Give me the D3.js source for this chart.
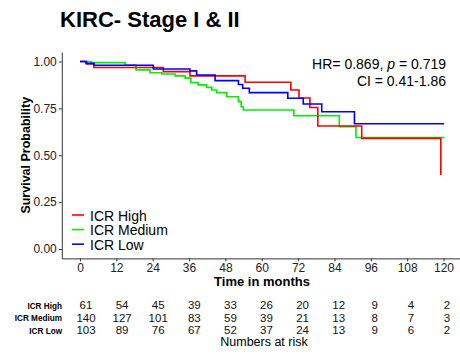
<!DOCTYPE html>
<html>
<head>
<meta charset="utf-8">
<script src="https://cdn.jsdelivr.net/npm/d3@7"></script>
<style>
  body { margin: 0; background: #fff; }
  svg { font-family: "Liberation Sans", Arial, sans-serif; }
  .axis path, .axis line { stroke: #333; }
  .axis text { fill: #222; font-size: 11.5px; font-family: "Liberation Sans", Arial, sans-serif; }
</style>
</head>
<body>
<div id="chart"></div>
<script>
// Kaplan-Meier curves (months, survival)
var groups = ["ICR High", "ICR Medium", "ICR Low"];
var colors = ["#ff0000", "#00ee00", "#0000ff"];

var highTime = [0, 2.2, 4.6, 27.5, 36.3, 54.5, 69.6, 72.3, 75.9, 78.5, 93, 119.1];
var highSurv = [1, 0.987, 0.968, 0.946, 0.923, 0.889, 0.848, 0.805, 0.755, 0.656, 0.59, 0.395];

var medTime = [0, 3.6, 14.9, 18.5, 23.1, 27, 31.4, 34.7, 36.6, 39, 41.8, 43.5, 45.1, 48.4, 52.3, 53.2, 53.9, 70.6, 85.6, 91.1, 120.3];
var medSurv = [1, 0.994, 0.981, 0.955, 0.94, 0.933, 0.923, 0.911, 0.887, 0.875, 0.862, 0.848, 0.834, 0.812, 0.786, 0.759, 0.741, 0.711, 0.652, 0.595, 0.595];

var lowTime = [0, 2, 4.6, 24.2, 36.3, 38.5, 44.6, 52.3, 53.7, 55.9, 68.6, 73.7, 79.8, 90.6, 120.2];
var lowSurv = [1, 0.99, 0.98, 0.96, 0.95, 0.928, 0.898, 0.877, 0.857, 0.834, 0.804, 0.773, 0.732, 0.668, 0.668];

var xTicks = [0, 12, 24, 36, 48, 60, 72, 84, 96, 108, 120];
var yTicks = [0, 0.25, 0.5, 0.75, 1];

var riskHigh = [61, 54, 45, 39, 33, 26, 20, 12, 9, 4, 2];
var riskMed = [140, 127, 101, 83, 59, 39, 21, 13, 8, 7, 3];
var riskLow = [103, 89, 76, 67, 52, 37, 24, 13, 9, 6, 2];

var width = 460, height = 361;

var svg = d3.select("#chart").append("svg")
    .attr("width", width)
    .attr("height", height);

// scales
var x = d3.scaleLinear().domain([-6, 126]).range([61.8, 461.7]);
var y = d3.scaleLinear().domain([-0.05, 1.05]).range([258.4, 52.1]);

// title
svg.append("text")
    .attr("x", 60)
    .attr("y", 27)
    .style("font-size", "22px")
    .style("font-weight", "bold")
    .text("KIRC- Stage I & II");

// axes
svg.append("g")
    .attr("class", "axis")
    .attr("transform", "translate(0," + y(-0.05) + ")")
    .call(d3.axisBottom(x).tickValues(xTicks).tickSize(3).tickSizeOuter(0).tickPadding(2))
    .selectAll("text").style("font-size", "12px");

svg.append("g")
    .attr("class", "axis")
    .attr("transform", "translate(" + x(-6) + ",0)")
    .call(d3.axisLeft(y).tickValues(yTicks).tickSize(3).tickSizeOuter(0).tickPadding(2).tickFormat(d3.format(".2f")))
    .selectAll("text").style("font-size", "12px");

// axis titles
svg.append("text")
    .attr("x", 262)
    .attr("y", 286)
    .attr("text-anchor", "middle")
    .style("font-size", "13px")
    .style("font-weight", "bold")
    .text("Time in months");

svg.append("text")
    .attr("transform", "translate(30," + y(0.5) + ") rotate(-90)")
    .attr("text-anchor", "middle")
    .style("font-size", "12.5px")
    .style("font-weight", "bold")
    .text("Survival Probability");

// curves
var series = [
  d3.zip(highTime, highSurv),
  d3.zip(medTime, medSurv),
  d3.zip(lowTime, lowSurv)
];

var line = d3.line()
    .x(function(d) { return x(d[0]); })
    .y(function(d) { return y(d[1]); })
    .curve(d3.curveStepAfter);

// draw medium first, then high and low on top
[1, 0, 2].forEach(function(i) {
  svg.append("path")
      .datum(series[i])
      .attr("fill", "none")
      .attr("stroke", colors[i])
      .attr("stroke-width", 1.6)
      .attr("d", line);
});

// HR annotation
var hr = svg.append("text")
    .attr("x", 446)
    .attr("y", 69)
    .attr("text-anchor", "end")
    .style("font-size", "14px");
hr.append("tspan").text("HR= 0.869, ");
hr.append("tspan").style("font-style", "italic").text("p");
hr.append("tspan").text(" = 0.719");

svg.append("text")
    .attr("x", 446)
    .attr("y", 86)
    .attr("text-anchor", "end")
    .style("font-size", "14px")
    .text("CI = 0.41-1.86");

// legend
var legend = svg.append("g");
groups.forEach(function(g, i) {
  var ly = 215 + i * 14.6;
  legend.append("line")
      .attr("x1", 72).attr("x2", 84)
      .attr("y1", ly).attr("y2", ly)
      .attr("stroke", colors[i])
      .attr("stroke-width", 1.6);
  legend.append("text")
      .attr("x", 90)
      .attr("y", ly + 5.5)
      .style("font-size", "14px")
      .text(g);
});

// numbers at risk table
var xr = d3.scaleLinear().domain([0, 120]).range([86, 447]);
var riskRows = [riskHigh, riskMed, riskLow];
riskRows.forEach(function(row, i) {
  var ry = 309 + i * 12.5;
  svg.append("text")
      .attr("x", 62)
      .attr("y", ry - 0.5)
      .attr("text-anchor", "end")
      .style("font-size", "8.2px")
      .style("font-weight", "bold")
      .text(groups[i]);
  svg.append("g").selectAll("text")
      .data(row)
    .enter().append("text")
      .attr("x", function(d, j) { return xr(xTicks[j]); })
      .attr("y", ry)
      .attr("text-anchor", "middle")
      .style("font-size", "11.5px")
      .style("fill", "#111")
      .text(function(d) { return d; });
});

svg.append("text")
    .attr("x", 264)
    .attr("y", 346)
    .attr("text-anchor", "middle")
    .style("font-size", "12.5px")
    .text("Numbers at risk");
</script>
</body>
</html>
